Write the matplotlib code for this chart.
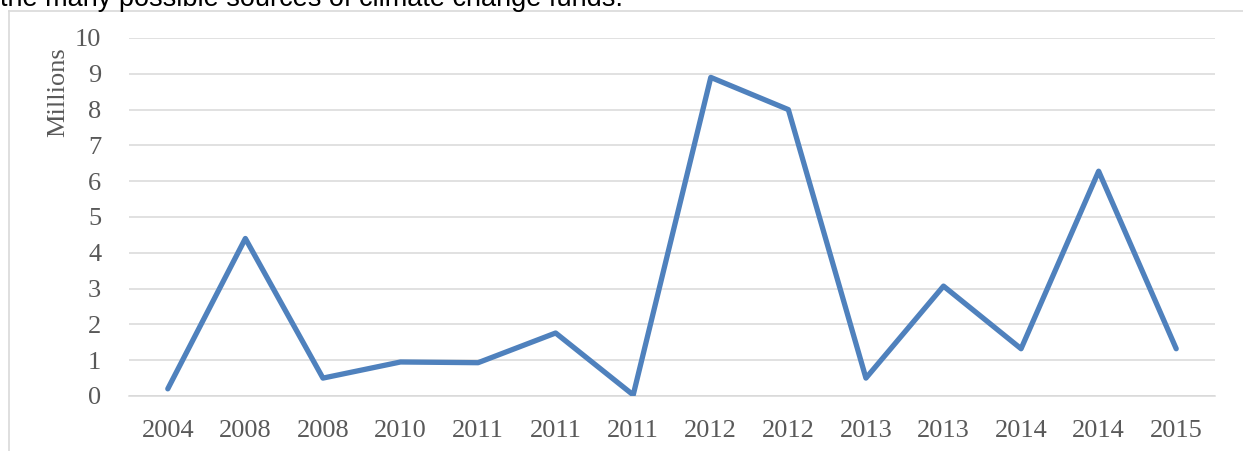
import numpy as np
import matplotlib
import matplotlib.pyplot as plt
from matplotlib.lines import Line2D

matplotlib.use('Agg')

# 数据（从图上读出的数值，单位：百万）
years = ['2004', '2008', '2008', '2010', '2011', '2011', '2011',
         '2012', '2012', '2013', '2013', '2014', '2014', '2015']
values = [0.2, 4.4, 0.5, 0.95, 0.93, 1.76, 0.03,
          8.9, 8.0, 0.5, 3.07, 1.32, 6.28, 1.32]
y_ticks = list(range(0, 11))

W, H = 1243, 451
fig = plt.figure(figsize=(W / 100, H / 100), dpi=100)

# 外框（只露出左边和上边）
fig.add_artist(Line2D([8.5 / W, 8.5 / W], [0, 1 - 10.5 / H], color='#D9D9D9', lw=1.2))
fig.add_artist(Line2D([8.5 / W, 1], [1 - 10.5 / H, 1 - 10.5 / H], color='#D9D9D9', lw=1.2))

# 顶部被截断的正文
fig.text(0, 1 - 6.5 / H, 'the many possible sources of climate change funds.',
         fontsize=19.5, family='Liberation Sans', color='black', va='baseline', ha='left')

ax = fig.add_axes([129 / W, 1 - 396 / H, (1215 - 129) / W, (396 - 38) / H])
x = np.arange(len(years))
ax.plot(x, values, color='#4F81BD', lw=3.8, solid_capstyle='round', solid_joinstyle='round', zorder=3)

ax.set_xlim(-0.5, len(years) - 0.5)
ax.set_ylim(0, 10)
ax.set_yticks(y_ticks)
ax.set_xticks(x)
ax.set_xticklabels(years)
ax.yaxis.grid(True, color='#D9D9D9', lw=1.1)
ax.set_axisbelow(True)
for s in ['top', 'right', 'left']:
    ax.spines[s].set_visible(False)
ax.spines['bottom'].set_color('#D9D9D9')
ax.spines['bottom'].set_linewidth(1.1)
ax.tick_params(length=0, labelsize=19, labelcolor='#595959')
ax.tick_params(axis='y', pad=20)
ax.tick_params(axis='x', pad=17)
for lab in ax.get_xticklabels() + ax.get_yticklabels():
    lab.set_family('Liberation Serif')
ax.set_ylabel('Millions', fontsize=19, family='Liberation Serif', color='#595959')
ax.yaxis.set_label_coords(-60 / (1215 - 129), (396 - 92) / (396 - 38))

fig.savefig('out.png', dpi=100)
